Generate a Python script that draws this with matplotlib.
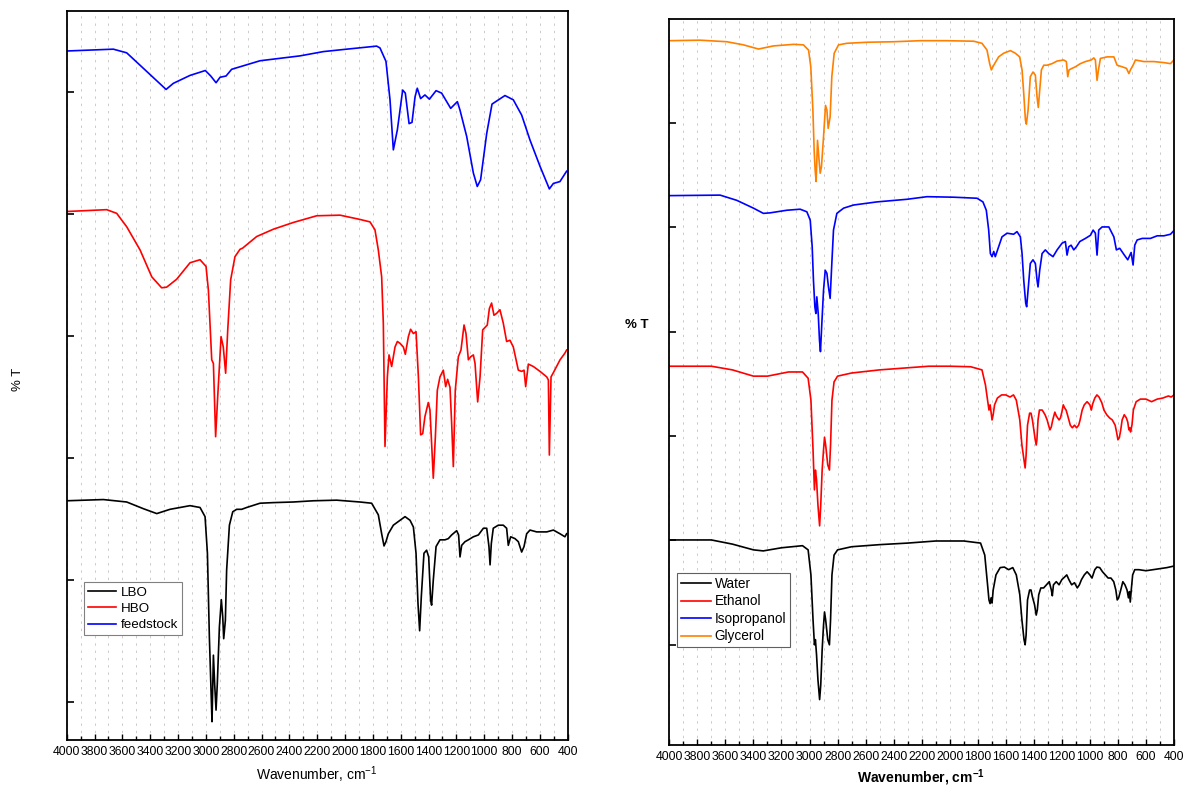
import matplotlib
matplotlib.use("Agg")
import matplotlib.pyplot as plt
from matplotlib.ticker import MultipleLocator, NullFormatter

plt.rcParams['font.family'] = ['Liberation Sans', 'DejaVu Sans']
plt.rcParams['mathtext.fontset'] = 'custom'
plt.rcParams['mathtext.rm'] = 'Liberation Sans'
plt.rcParams['mathtext.bf'] = 'Liberation Sans:bold'

# ---------------- left panel data (wavenumber, offset %T) ----------------
feed_wn = [4000, 3665, 3569, 3286, 3234, 3114, 3004, 2965, 2927, 2898, 2855, 2815, 2611, 2324, 2156,
           1988, 1773, 1749, 1706, 1677, 1653, 1624, 1586, 1567, 1540, 1519, 1497, 1481, 1457, 1426,
           1394, 1346, 1306, 1241, 1193, 1174, 1126, 1078, 1050, 1026, 982, 944, 851, 791, 731,
           671, 599, 532, 503, 456, 408]
feed_t = [106.7, 107.0, 106.4, 100.4, 101.4, 102.7, 103.5, 102.6, 101.5, 102.4, 102.6, 103.7, 105.1, 105.9, 106.6,
          107.0, 107.5, 107.2, 105.0, 98.7, 90.5, 93.8, 100.3, 99.8, 94.8, 95.0, 99.2, 100.6, 98.9, 99.5,
          98.8, 100.2, 99.8, 97.3, 98.4, 97.0, 92.7, 86.7, 84.5, 85.6, 93.2, 98.0, 99.4, 98.7, 96.2,
          92.1, 87.8, 84.1, 85.0, 85.3, 87.0]

hbo_wn = [4000, 3713, 3641, 3569, 3473, 3389, 3318, 3282, 3210, 3114, 3042, 2999, 2982, 2958, 2946,
          2930, 2915, 2891, 2875, 2858, 2843, 2822, 2791, 2755, 2736, 2635, 2515, 2372, 2204, 2036,
          1893, 1821, 1785, 1761, 1737, 1725, 1713, 1696, 1684, 1665, 1641, 1624, 1605, 1581, 1567,
          1545, 1529, 1509, 1490, 1473, 1457, 1442, 1426, 1402, 1390, 1378, 1366, 1351, 1337, 1318,
          1294, 1277, 1263, 1246, 1234, 1222, 1208, 1186, 1167, 1145, 1131, 1114, 1097, 1078, 1066,
          1047, 1030, 1011, 978, 963, 947, 930, 911, 887, 863, 839, 815, 791, 755, 731,
          714, 702, 683, 647, 599, 551, 539, 532, 520, 503, 455, 420, 408]
hbo_t = [80.4, 80.7, 80.1, 77.9, 74.1, 69.7, 67.9, 68.0, 69.3, 72.0, 72.5, 71.4, 67.5, 56.1, 55.5,
         43.5, 50.1, 59.9, 58.2, 53.9, 61.0, 69.2, 73.0, 74.2, 74.4, 76.3, 77.5, 78.6, 79.7, 79.8,
         79.1, 78.7, 77.4, 74.1, 69.7, 62.1, 41.9, 53.3, 56.9, 55.0, 58.2, 59.1, 58.8, 58.2, 57.0,
         59.9, 61.1, 60.4, 60.7, 53.3, 43.8, 44.0, 46.8, 49.1, 47.9, 42.4, 36.7, 43.5, 51.1, 53.3,
         54.4, 51.7, 52.9, 51.6, 45.7, 38.6, 51.1, 56.6, 57.7, 61.8, 60.4, 56.1, 56.6, 56.9, 55.5,
         49.2, 53.3, 61.0, 61.8, 64.5, 65.4, 63.4, 63.7, 64.3, 62.1, 59.1, 59.3, 58.2, 54.4, 54.2,
         54.4, 51.7, 55.4, 55.0, 54.2, 53.3, 52.8, 40.5, 53.3, 54.0, 56.1, 57.2, 57.7]

lbo_wn = [4000, 3737, 3569, 3449, 3353, 3258, 3114, 3042, 3006, 2989, 2975, 2963, 2956, 2946, 2937,
          2927, 2918, 2903, 2889, 2879, 2872, 2860, 2851, 2831, 2807, 2779, 2743, 2707, 2611, 2515,
          2372, 2228, 2060, 1893, 1809, 1761, 1737, 1720, 1706, 1689, 1653, 1605, 1569, 1533, 1509,
          1490, 1476, 1464, 1452, 1433, 1414, 1399, 1385, 1378, 1366, 1346, 1318, 1282, 1258, 1234,
          1198, 1184, 1174, 1162, 1138, 1114, 1078, 1042, 1006, 982, 966, 958, 949, 935, 899,
          863, 839, 827, 810, 779, 755, 731, 714, 695, 671, 623, 551, 503, 456, 420, 408]
lbo_t = [33.0, 33.2, 32.8, 31.7, 30.9, 31.6, 32.2, 31.9, 30.4, 24.4, 10.7, 1.9, -3.2, 7.7, 3.0,
         -1.3, 3.0, 12.3, 16.8, 14.0, 10.4, 13.4, 21.6, 29.0, 31.2, 31.6, 31.6, 31.9, 32.6, 32.7,
         32.8, 33.0, 33.1, 32.8, 32.6, 30.7, 27.6, 25.6, 26.3, 27.6, 29.0, 29.8, 30.4, 29.8, 28.7,
         24.4, 16.2, 11.7, 17.3, 24.4, 24.9, 23.8, 16.7, 15.9, 20.0, 25.5, 26.6, 26.6, 26.8, 27.4,
         28.1, 27.4, 23.8, 25.7, 26.3, 26.6, 27.1, 27.4, 28.5, 28.5, 25.5, 22.5, 26.0, 28.5, 29.0,
         29.0, 28.5, 25.7, 27.1, 26.8, 26.3, 24.6, 25.5, 27.6, 28.2, 27.9, 27.9, 28.2, 27.6, 27.1, 27.6]

# ---------------- right panel data (wavenumber, offset %T) ----------------
gly_wn = [4000, 3781, 3590, 3471, 3364, 3257, 3114, 3043, 3007, 2991, 2976, 2967, 2960, 2953, 2943,
          2934, 2924, 2915, 2900, 2886, 2876, 2867, 2853, 2841, 2824, 2793, 2734, 2591, 2400, 2210,
          2020, 1829, 1770, 1734, 1715, 1703, 1686, 1651, 1615, 1567, 1532, 1501, 1484, 1472, 1460,
          1453, 1441, 1425, 1406, 1389, 1377, 1368, 1358, 1346, 1329, 1306, 1270, 1234, 1187, 1168,
          1158, 1149, 1127, 1103, 1068, 1032, 991, 972, 961, 949, 939, 925, 877, 829, 806,
          770, 739, 722, 711, 692, 675, 615, 544, 472, 425, 401]
gly_t = [115.8, 115.9, 115.6, 115.0, 114.2, 114.8, 115.1, 115.0, 114.0, 110.8, 102.5, 94.8, 91.0, 88.8, 96.7,
         93.6, 90.4, 91.6, 97.4, 103.4, 102.5, 99.0, 101.2, 108.9, 113.4, 115.0, 115.3, 115.5, 115.6, 115.8,
         115.8, 115.7, 115.3, 114.0, 111.4, 110.2, 111.1, 112.7, 113.4, 113.9, 113.4, 112.7, 110.2, 105.7, 100.6,
         99.8, 102.5, 108.9, 109.8, 109.2, 105.0, 103.0, 106.3, 110.2, 111.1, 111.1, 111.4, 111.9, 112.1, 111.8,
         108.9, 110.2, 110.5, 110.8, 111.4, 111.8, 112.1, 112.5, 112.1, 108.2, 110.2, 112.4, 112.7, 112.7, 111.1,
         110.8, 110.5, 109.5, 110.2, 111.1, 112.1, 111.8, 111.8, 111.6, 111.4, 112.1]

ipa_wn = [4000, 3638, 3519, 3400, 3329, 3281, 3162, 3067, 3019, 2995, 2981, 2972, 2962, 2955, 2948,
          2938, 2929, 2922, 2912, 2900, 2888, 2876, 2865, 2853, 2841, 2829, 2805, 2757, 2686, 2519,
          2305, 2162, 1972, 1805, 1763, 1739, 1722, 1710, 1698, 1686, 1675, 1651, 1627, 1591, 1544,
          1520, 1496, 1484, 1472, 1458, 1451, 1441, 1425, 1406, 1389, 1377, 1370, 1358, 1341, 1318,
          1294, 1263, 1234, 1198, 1175, 1163, 1151, 1134, 1115, 1096, 1072, 1032, 996, 977, 961,
          949, 937, 913, 865, 829, 811, 787, 754, 730, 706, 692, 680, 663, 627, 568,
          520, 472, 425, 401]
ipa_t = [86.1, 86.2, 85.2, 83.7, 82.7, 82.8, 83.3, 83.5, 83.0, 81.4, 76.3, 69.9, 64.8, 63.5, 66.7,
         63.5, 58.4, 56.2, 61.7, 68.0, 71.8, 71.2, 68.6, 66.4, 73.1, 79.5, 82.7, 83.7, 84.3, 84.9,
         85.4, 85.9, 85.8, 85.6, 84.9, 83.3, 79.5, 75.0, 74.4, 75.4, 74.4, 76.3, 78.2, 78.9, 78.7,
         79.2, 78.2, 75.0, 69.9, 65.5, 64.8, 68.0, 73.1, 73.8, 73.1, 69.9, 68.6, 71.8, 75.0, 75.7,
         75.0, 74.4, 75.7, 77.0, 77.3, 74.7, 76.3, 76.6, 75.7, 76.3, 77.3, 77.9, 78.5, 79.5, 78.9,
         74.7, 79.5, 80.1, 80.1, 78.2, 75.7, 76.0, 74.7, 73.8, 75.2, 72.8, 76.6, 77.6, 77.9, 77.9,
         78.4, 78.4, 78.7, 79.4]

eth_wn = [4000, 3700, 3550, 3400, 3300, 3150, 3050, 3010, 2990, 2975, 2965, 2958, 2950, 2940, 2928,
          2920, 2910, 2900, 2893, 2885, 2870, 2858, 2850, 2840, 2825, 2800, 2700, 2500, 2300, 2150,
          2000, 1850, 1770, 1745, 1730, 1720, 1712, 1705, 1698, 1690, 1680, 1660, 1630, 1600, 1570,
          1545, 1525, 1500, 1485, 1470, 1462, 1455, 1445, 1430, 1420, 1410, 1400, 1390, 1383, 1378,
          1370, 1360, 1340, 1320, 1305, 1295, 1285, 1275, 1265, 1250, 1240, 1230, 1220, 1210, 1200,
          1190, 1180, 1170, 1160, 1150, 1140, 1125, 1110, 1095, 1080, 1070, 1055, 1040, 1020, 1000,
          990, 980, 965, 950, 935, 915, 900, 880, 860, 840, 820, 810, 800, 790, 780,
          770, 755, 740, 730, 722, 715, 710, 700, 690, 670, 640, 600, 560, 520, 480,
          440, 420, 400]
eth_t = [53.4, 53.4, 52.7, 51.5, 51.5, 52.3, 52.3, 51.1, 46.9, 37.4, 29.7, 33.5, 31.6, 26.8, 22.8,
         26.8, 33.5, 37.4, 39.8, 38.3, 34.5, 33.5, 38.3, 46.9, 50.4, 51.5, 52.1, 52.7, 53.1, 53.4,
         53.4, 53.3, 52.7, 49.8, 46.9, 45.0, 46.0, 44.6, 43.1, 44.1, 46.0, 47.3, 47.9, 47.9, 47.5,
         47.9, 46.9, 43.1, 38.3, 35.4, 33.9, 36.4, 42.1, 44.4, 44.4, 43.1, 41.2, 39.3, 38.3, 39.3,
         43.1, 45.0, 45.0, 44.1, 43.1, 42.1, 41.2, 41.8, 43.1, 44.6, 43.9, 43.5, 43.1, 43.5, 44.6,
         46.0, 45.4, 45.0, 44.1, 43.1, 42.1, 41.6, 42.1, 41.6, 42.1, 43.1, 45.0, 46.0, 46.6, 46.0,
         45.0, 46.2, 47.3, 47.9, 47.5, 46.4, 45.0, 44.1, 43.5, 43.1, 42.1, 40.8, 39.3, 39.7, 41.2,
         43.1, 44.1, 43.5, 42.7, 41.2, 41.6, 40.8, 42.1, 45.0, 46.6, 47.1, 47.1, 46.6, 47.1, 47.3,
         47.7, 47.5, 47.9]

wat_wn = [4000, 3700, 3550, 3400, 3330, 3200, 3050, 3010, 2990, 2975, 2965, 2958, 2950, 2940, 2928,
          2920, 2910, 2900, 2893, 2885, 2870, 2858, 2850, 2840, 2825, 2800, 2700, 2500, 2300, 2100,
          1900, 1780, 1750, 1730, 1720, 1712, 1705, 1698, 1690, 1670, 1640, 1610, 1580, 1550, 1525,
          1500, 1485, 1470, 1462, 1455, 1445, 1430, 1420, 1410, 1395, 1383, 1375, 1365, 1350, 1330,
          1310, 1290, 1275, 1268, 1260, 1240, 1220, 1200, 1180, 1165, 1150, 1130, 1110, 1090, 1075,
          1060, 1040, 1020, 1000, 985, 965, 950, 930, 910, 890, 870, 850, 830, 815, 805,
          795, 780, 765, 750, 735, 725, 718, 712, 705, 695, 680, 650, 600, 550, 500,
          450, 400]
wat_t = [20.1, 20.1, 19.3, 18.2, 18.0, 18.6, 19.0, 18.2, 13.4, 4.8, 0.0, 1.0, -1.9, -6.7, -10.5,
         -7.7, -1.0, 3.8, 6.3, 4.8, 1.0, 0.0, 4.8, 13.4, 17.2, 18.2, 18.8, 19.2, 19.5, 19.9,
         19.9, 19.5, 17.2, 11.5, 8.6, 7.9, 9.0, 8.0, 10.5, 13.4, 14.8, 14.9, 14.4, 14.8, 13.4,
         9.6, 4.8, 1.0, 0.0, 1.9, 8.6, 10.5, 10.5, 9.2, 7.7, 5.7, 6.7, 9.6, 10.9, 10.9,
         11.5, 12.1, 10.5, 9.4, 11.5, 12.1, 11.5, 12.5, 13.0, 13.4, 12.5, 11.5, 11.9, 10.9, 11.5,
         12.5, 13.4, 14.0, 13.4, 12.8, 14.4, 14.9, 14.8, 14.0, 13.4, 12.8, 12.8, 12.1, 10.5, 8.6,
         9.0, 10.5, 12.1, 11.5, 10.5, 9.0, 10.2, 8.2, 10.5, 13.4, 14.4, 14.4, 14.2, 14.4, 14.6,
         14.8, 15.1]

left_labels = ['LBO', 'HBO', 'feedstock']
right_labels = ['Water', 'Ethanol', 'Isopropanol', 'Glycerol']
x_ticks = list(range(4000, 399, -200))

BLACK, RED, BLUE, ORANGE = '#000000', '#ff0000', '#0000ff', '#ff8000'

fig = plt.figure(figsize=(11.83, 7.88), dpi=100)
ax1 = fig.add_axes([0.0564, 0.0609, 0.4235, 0.9255])
ax2 = fig.add_axes([0.5658, 0.0546, 0.4266, 0.9209])


def style(ax, ylo, yhi):
    ax.set_xlim(4000, 400)
    ax.set_ylim(ylo, yhi)
    ax.set_xticks(x_ticks)
    ax.set_xticklabels([str(v) for v in x_ticks])
    ax.xaxis.set_minor_locator(MultipleLocator(100))
    ax.yaxis.set_major_locator(MultipleLocator(20))
    ax.yaxis.set_major_formatter(NullFormatter())
    ax.tick_params(axis='x', which='major', direction='in', length=4, width=1.0,
                   labelsize=8.8, pad=4, top=False)
    ax.tick_params(axis='x', which='minor', direction='in', length=3, width=1.0, top=False)
    ax.tick_params(axis='y', which='major', direction='in', length=5, width=1.2, right=False)
    ax.grid(which='both', axis='x', color='#cccccc', linestyle=(0, (2.5, 5)), linewidth=0.7)
    ax.set_axisbelow(True)
    for s in ax.spines.values():
        s.set_linewidth(1.3)


style(ax1, -6.2, 113.3)
style(ax2, -19.2, 119.9)

lw = 1.2
l1, = ax1.plot(lbo_wn, lbo_t, color=BLACK, lw=lw)
l2, = ax1.plot(hbo_wn, hbo_t, color=RED, lw=lw)
l3, = ax1.plot(feed_wn, feed_t, color=BLUE, lw=lw)

r1, = ax2.plot(wat_wn, wat_t, color=BLACK, lw=lw)
r2, = ax2.plot(eth_wn, eth_t, color=RED, lw=lw)
r3, = ax2.plot(ipa_wn, ipa_t, color=BLUE, lw=lw)
r4, = ax2.plot(gly_wn, gly_t, color=ORANGE, lw=lw)

leg1 = ax1.legend([l1, l2, l3], left_labels, loc='upper left', bbox_to_anchor=(0.034, 0.216),
                  borderaxespad=0, fontsize=9.6, frameon=True, fancybox=False, framealpha=1,
                  edgecolor='#808080', handlelength=2.1, handletextpad=0.4, labelspacing=0.3,
                  borderpad=0.3)
leg1.get_frame().set_linewidth(0.8)

leg2 = ax2.legend([r1, r2, r3, r4], right_labels, loc='upper left', bbox_to_anchor=(0.0147, 0.237),
                  borderaxespad=0, fontsize=9.8, frameon=True, fancybox=False, framealpha=1,
                  edgecolor='#606060', handlelength=2.2, handletextpad=0.3, labelspacing=0.25,
                  borderpad=0.3)
leg2.get_frame().set_linewidth(0.8)

fig.text(0.0152, 0.518, '% T', rotation=90, ha='center', va='center', fontsize=9.5)
fig.text(0.538, 0.5876, '% T', ha='center', va='center', fontsize=9.5, fontweight='bold')
fig.text(0.268, 0.0165, r'Wavenumber, cm$^{\mathregular{-1}}$', ha='center', va='center', fontsize=10)
fig.text(0.7785, 0.0135, r'Wavenumber, cm$^{\mathbf{-1}}$', ha='center', va='center', fontsize=10,
         fontweight='bold')

fig.savefig('out.png', dpi=100)
